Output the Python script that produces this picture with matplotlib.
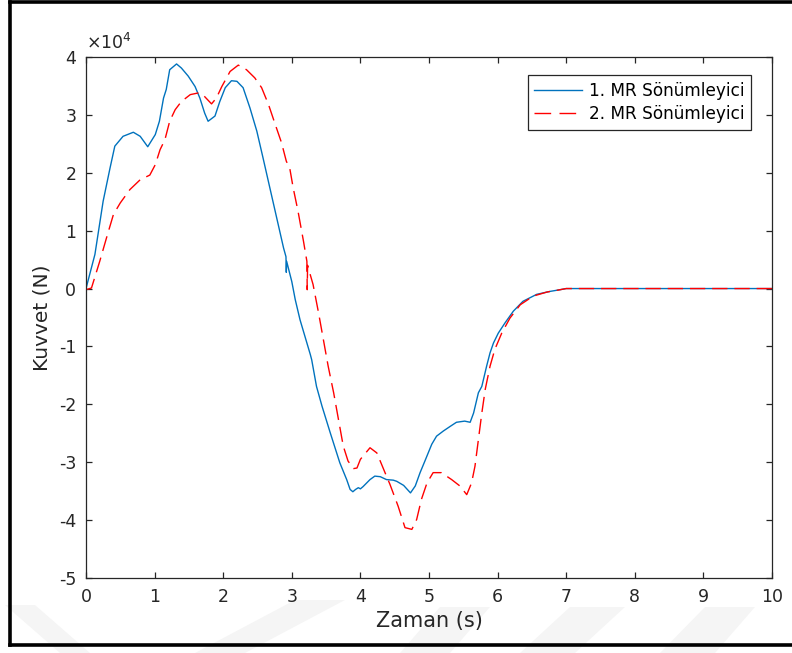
import matplotlib
matplotlib.use("Agg")
import matplotlib.pyplot as plt
from matplotlib.lines import Line2D
from matplotlib.patches import Polygon
from matplotlib.ticker import FuncFormatter
import numpy as np

# ---- data (force in units of 1e4 N) ----
t1 = [0.00, 0.13, 0.25, 0.35, 0.42, 0.54, 0.69, 0.79, 0.90, 1.01, 1.07, 1.13, 1.17,
      1.22, 1.32, 1.39, 1.49, 1.59, 1.66, 1.73, 1.78, 1.88, 1.95, 2.03, 2.12, 2.20,
      2.29, 2.39, 2.49, 2.58, 2.68, 2.78, 2.88, 2.915, 2.92, 2.925, 3.00, 3.05, 3.12,
      3.22, 3.27, 3.29, 3.36, 3.44, 3.56, 3.70, 3.80, 3.85, 3.89, 3.93, 3.97, 4.00,
      4.04, 4.14, 4.21, 4.29, 4.38, 4.48, 4.53, 4.63, 4.73, 4.80, 4.87, 4.94, 5.04,
      5.11, 5.21, 5.31, 5.40, 5.52, 5.60, 5.65, 5.72, 5.77, 5.84, 5.89, 5.94, 6.01,
      6.11, 6.23, 6.37, 6.57, 6.76, 6.91, 7.00, 10.00]
f1 = [0.00, 0.59, 1.51, 2.08, 2.46, 2.63, 2.70, 2.63, 2.45, 2.66, 2.89, 3.29, 3.44,
      3.78, 3.88, 3.81, 3.67, 3.49, 3.29, 3.03, 2.89, 2.98, 3.23, 3.47, 3.59, 3.58,
      3.47, 3.12, 2.72, 2.26, 1.74, 1.22, 0.70, 0.55, 0.28, 0.47, 0.12, -0.19, -0.54,
      -0.94, -1.14, -1.23, -1.69, -2.03, -2.49, -3.01, -3.30, -3.47, -3.51, -3.47, -3.44, -3.46,
      -3.42, -3.30, -3.24, -3.25, -3.30, -3.31, -3.33, -3.40, -3.53, -3.41, -3.18, -2.98, -2.69,
      -2.55, -2.46, -2.38, -2.31, -2.29, -2.31, -2.15, -1.80, -1.69, -1.34, -1.11, -0.94, -0.77,
      -0.59, -0.39, -0.22, -0.10, -0.05, -0.02, 0.00, 0.00]

t2 = [0.00, 0.08, 0.20, 0.30, 0.40, 0.50, 0.64, 0.79, 0.93, 1.01, 1.08, 1.15, 1.22,
      1.30, 1.39, 1.52, 1.64, 1.71, 1.83, 1.90, 1.98, 2.10, 2.22, 2.34, 2.46, 2.56,
      2.66, 2.76, 2.85, 2.92, 2.97, 3.02, 3.09, 3.17, 3.22, 3.225, 3.23, 3.31, 3.39,
      3.46, 3.53, 3.61, 3.68, 3.75, 3.82, 3.90, 3.95, 4.00, 4.14, 4.24, 4.38, 4.43,
      4.55, 4.65, 4.75, 4.82, 4.89, 4.97, 5.06, 5.18, 5.33, 5.45, 5.55, 5.62, 5.67,
      5.72, 5.77, 5.82, 5.89, 5.96, 6.06, 6.18, 6.33, 6.52, 6.72, 6.91, 7.00, 10.00]
f2 = [-0.02, 0.01, 0.47, 0.88, 1.28, 1.48, 1.71, 1.88, 1.96, 2.14, 2.40, 2.57, 2.89,
      3.09, 3.23, 3.35, 3.38, 3.34, 3.19, 3.29, 3.49, 3.75, 3.86, 3.78, 3.64, 3.47,
      3.18, 2.83, 2.52, 2.20, 2.08, 1.74, 1.34, 0.82, 0.47, -0.02, 0.40, 0.07, -0.42,
      -0.88, -1.34, -1.80, -2.26, -2.72, -2.98, -3.11, -3.10, -2.95, -2.75, -2.84, -3.24, -3.38,
      -3.76, -4.13, -4.16, -3.99, -3.64, -3.36, -3.18, -3.18, -3.30, -3.41, -3.56, -3.36, -3.07,
      -2.61, -2.15, -1.74, -1.34, -1.05, -0.77, -0.51, -0.28, -0.13, -0.06, -0.02, 0.00, 0.00]

labels = ["1. MR Sönümleyici", "2. MR Sönümleyici"]
xlabel = "Zaman (s)"
ylabel = "Kuvvet (N)"
xticks = list(range(0, 11))
yticks = [-5e4, -4e4, -3e4, -2e4, -1e4, 0, 1e4, 2e4, 3e4, 4e4]
scale = 1e4

plt.rcParams['font.family'] = ['DejaVu Sans']
plt.rcParams['axes.unicode_minus'] = False

W, H = 792, 653
fig = plt.figure(figsize=(W / 100, H / 100), dpi=100)
fig.patch.set_facecolor('white')

# faint watermark shapes at bottom (pixel coords from top-left)
shapes = [
    [(5, 605), (35, 605), (90, 653), (60, 653)],
    [(195, 653), (245, 653), (345, 600), (295, 600)],
    [(400, 653), (450, 653), (490, 607), (440, 607)],
    [(520, 653), (575, 653), (625, 607), (570, 607)],
    [(660, 653), (715, 653), (755, 607), (705, 607)],
]
for s in shapes:
    pts = [(x / W, 1 - y / H) for x, y in s]
    fig.add_artist(Polygon(pts, closed=True, transform=fig.transFigure,
                           facecolor='#f5f5f5', edgecolor='none', zorder=0))

# figure frame (thick black)
lwf = 2.6
fig.add_artist(Line2D([9.5 / W, 9.5 / W], [1 - 1.5 / H, 1 - 645 / H], transform=fig.transFigure,
                      color='black', lw=lwf, solid_capstyle='projecting'))
fig.add_artist(Line2D([9.5 / W, 1.0], [1 - 1.5 / H, 1 - 1.5 / H], transform=fig.transFigure,
                      color='black', lw=lwf, solid_capstyle='projecting'))
fig.add_artist(Line2D([9.5 / W, 1.0], [1 - 645 / H, 1 - 645 / H], transform=fig.transFigure,
                      color='black', lw=lwf, solid_capstyle='projecting'))

ax = fig.add_axes([86 / W, 1 - 578 / H, (772 - 86) / W, (578 - 57) / H])
ax.set_facecolor('white')

blue = (0, 0.447, 0.741)
red = (1, 0, 0)
l1, = ax.plot(t1, np.array(f1) * scale, color=blue, lw=1.0, label=labels[0])
l2, = ax.plot(t2, np.array(f2) * scale, color=red, lw=1.0, label=labels[1])
l2.set_dashes((11, 5))

ax.set_xlim(0, 10)
ax.set_ylim(-5e4, 4e4)
ax.set_xticks(xticks)
ax.set_yticks(yticks)
ax.yaxis.set_major_formatter(FuncFormatter(lambda v, p: f"{v / scale:g}"))

dark = '#262626'
ax.text(0.0, 1.008, r"$\times$10$^{4}$", transform=ax.transAxes, fontsize=12.5,
        color=dark, ha='left', va='bottom')

for sp in ax.spines.values():
    sp.set_color(dark)
    sp.set_linewidth(0.9)
ax.tick_params(direction='in', top=True, right=True, length=4, width=0.9,
               colors=dark, labelsize=12.5)
ax.tick_params(axis='x', pad=7)
ax.tick_params(axis='y', pad=7)

ax.set_xlabel(xlabel, fontsize=15, color=dark, labelpad=4)
ax.set_ylabel(ylabel, fontsize=14.5, color=dark, labelpad=5)

h2 = Line2D([], [], color=red, lw=1.0, dashes=(12, 6))
leg = ax.legend(handles=[l1, h2], labels=labels, loc='upper right',
                bbox_to_anchor=(751 / W, 1 - 75 / H),
                bbox_transform=fig.transFigure, fontsize=12.2, frameon=True,
                fancybox=False, framealpha=1, edgecolor=dark, handlelength=2.8,
                handletextpad=0.4, borderpad=0.4, labelspacing=0.3,
                borderaxespad=0)
leg.get_frame().set_linewidth(0.9)

fig.savefig('out.png', dpi=100, facecolor='white')
